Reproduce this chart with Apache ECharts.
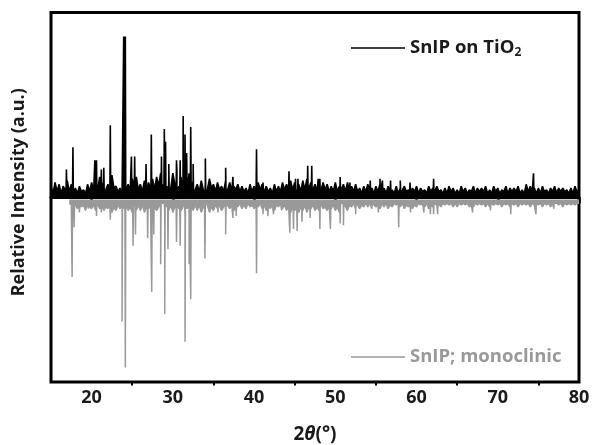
<!DOCTYPE html>
<html>
<head>
<meta charset="utf-8">
<script src="https://cdn.jsdelivr.net/npm/echarts@6/dist/echarts.min.js"></script>
<style>
html,body{margin:0;padding:0;background:#fff;}
#chart{width:592px;height:445px;}
</style>
</head>
<body>
<div id="chart"></div>
<script>
// ---- data ----
const xTicks = [20, 30, 40, 50, 60, 70, 80];
const xMinorTicks = [25, 35, 45, 55, 65, 75];
const seriesNames = ['SnIP on TiO2', 'SnIP; monoclinic'];

// SnIP on TiO2: background noise, sampled every 0.25° from 15° to 80°
const blackNoiseStart = 15;
const blackNoise = [
6,2,8,3, 7,2,6,4, 9,3,7,2, 5,2,6,3, 4,2,7,3,
8,3,10,4, 11,5,9,4, 7,3,12,5, 6,3,5,2, 8,4,7,3,
10,5,11,4, 7,3,9,4, 8,5,10,4, 11,6,13,7, 12,6,10,5,
13,7,14,6, 11,6,12,5, 13,7,9,4, 7,3,9,4, 8,4,10,5,
7,3,8,4, 6,3,9,4, 8,3,6,4, 7,3,6,3, 5,2,7,3,
6,3,8,4, 7,3,6,3, 5,2,7,3, 6,3,8,4, 7,3,9,4,
8,4,7,3, 9,4,10,5, 8,4,7,3, 6,3,8,4, 7,3,6,3,
8,3,6,4, 7,3,8,4, 6,3,7,3, 5,2,6,3, 7,3,5,2,
6,3,7,3, 5,2,6,3, 4,2,6,2, 5,2,6,3, 4,2,5,3,
6,2,5,3, 4,2,6,3, 5,2,6,3, 4,2,5,2, 6,3,5,2,
4,2,6,3, 5,2,4,3, 6,2,5,3, 5,3,6,2, 4,2,6,3,
5,2,4,3, 6,2,5,3, 5,3,6,2, 4,2,7,3, 6,3,5,2,
5,2,6,3, 4,2,5,3, 6,2,5,3, 5,3,4,2, 5,2,6,3,
4
];
// SnIP on TiO2: peaks [2theta, height]
const blackPeaks = [
[16.9,15],[17.7,27],[20.4,20],[20.6,20],[21.2,15],[21.5,16],[22.3,39],
[23.95,87],[24.05,84],[24.15,87],[24.9,22],[25.3,22],[26.7,18],[27.35,34],
[28.6,22],[28.95,37],[29.1,30],[29.5,18],[30.45,20],[30.9,20],[31.27,44],
[31.5,34],[31.7,24],[32.2,38],[32.5,18],[34.0,21],[36.5,16],[37.4,11],
[40.3,26],[41.1,8],[44.3,14],[45.1,10],[45.4,10],[46.6,17],[47.1,17],
[47.9,10],[48.1,10],[50.6,11],[51.8,8],[54.3,9],[55.5,10],[55.8,9],
[56.8,9],[58.0,9],[59.2,8],[62.1,10],[74.4,13]
];

// SnIP monoclinic (reference pattern, drawn downward): noise every 0.25° from 17.25° to 80°
const greyNoiseStart = 17.25;
const greyNoise = [
2,3,4,
3,5,2,4, 3,6,2,4,
5,3,6,3, 5,2,6,4, 5,3,7,4, 6,3,5,4, 5,3,6,4,
7,4,6,3, 6,3,7,4, 5,3,8,4, 6,4,7,3, 8,4,6,3,
7,4,8,5, 6,4,9,5, 7,4,6,3, 6,3,7,4, 5,3,7,4,
6,3,5,3, 6,4,7,3, 5,3,6,4, 4,2,5,3, 5,2,4,3,
5,3,4,2, 5,3,6,4, 5,3,6,3, 4,2,5,3, 6,3,7,4,
6,4,7,4, 6,3,7,4, 5,3,6,4, 6,3,5,4, 6,3,5,3,
6,4,7,3, 5,3,6,3, 4,2,5,3, 5,3,4,2, 4,2,5,3,
4,3,5,2, 4,2,5,3, 4,2,3,2, 4,2,5,3, 4,2,5,3,
4,2,3,2, 4,2,5,3, 4,2,3,2, 4,2,3,2, 3,2,4,2,
4,2,3,2, 3,2,4,3, 4,2,3,2, 3,2,4,2, 4,2,3,2,
3,2,4,2, 3,2,4,2, 3,2,4,2, 3,2,3,2, 4,2,3,2,
3,2,4,2, 3,2,4,2, 3,2,3,2, 4,2,3,2, 3,2,3,2,
2
];
// SnIP monoclinic: peaks [2theta, depth]
const greyPeaks = [
[17.6,42],[17.85,15],[18.5,7],[19.6,5],[20.6,9],[21.2,7],[22.3,11],
[23.75,66],[24.15,91],[25.1,25],[25.4,19],[26.9,21],[27.4,50],[27.65,19],
[28.5,35],[29.0,62],[29.4,27],[30.45,23],[30.9,25],[31.5,77],[32.0,35],
[32.2,54],[33.95,32],[35.55,7],[36.5,19],[37.4,10],[37.8,9],[40.3,40],
[41.1,8],[41.7,9],[42.4,8],[43.4,6],[44.4,18],[44.85,16],[45.3,17],
[45.9,12],[46.9,10],[48.1,16],[49.4,16],[50.6,13],[51.0,14],[52.5,8],
[54.5,6],[55.3,7],[57.8,15],[59.25,7],[60.9,7],[61.7,8],[62.1,8],
[62.6,8],[66.9,7],[69.1,6],[71.6,8],[74.7,8],[76.9,5]
];

// ---- build traces ----
const STEP = 0.25, FLANK = 0.05;
const GREY_OFFSET = -1.2;
function buildTrace(start, noise, peaks, sign, offset) {
  const pts = noise.map((v, i) => [start + i * STEP, sign * v + offset]);
  peaks.forEach(([p, h]) => {
    pts.push([p - FLANK, sign * 2 + offset], [p, sign * h + offset], [p + FLANK, sign * 2 + offset]);
  });
  pts.sort((a, b) => a[0] - b[0]);
  return pts;
}
const blackData = buildTrace(blackNoiseStart, blackNoise, blackPeaks, 1, 0);
const greyData = buildTrace(greyNoiseStart, greyNoise, greyPeaks, -1, GREY_OFFSET);

const FONT = 'Open Sans';
const BLACK = '#000000', GREY = '#999999', TXT = '#1a1a1a';

const chart = echarts.init(document.getElementById('chart'), null, {renderer: 'canvas'});
chart.setOption({
  animation: false,
  backgroundColor: '#ffffff',
  grid: {left: 51, right: 13, top: 12.5, bottom: 63, show: true, borderColor: '#000', borderWidth: 3,
         backgroundColor: 'transparent', containLabel: false, outerBoundsMode: 'none'},
  legend: [
    {
      data: [seriesNames[0]], left: 351, top: 37, padding: 0, selectedMode: false,
      icon: 'rect', itemWidth: 54, itemHeight: 1.6, itemGap: 0,
      formatter: () => '{a|SnIP on TiO}{s|2}',
      textStyle: {
        color: TXT, fontFamily: FONT, fontWeight: 'bold', fontSize: 18.5,
        rich: {
          a: {color: TXT, fontFamily: FONT, fontWeight: 'bold', fontSize: 18.5, lineHeight: 22},
          s: {color: TXT, fontFamily: FONT, fontWeight: 'bold', fontSize: 12, lineHeight: 22, padding: [10, 0, 0, 0]}
        }
      }
    },
    {
      data: [seriesNames[1]], left: 351, top: 346, padding: 0, selectedMode: false,
      icon: 'rect', itemWidth: 54, itemHeight: 1.6, itemGap: 0,
      textStyle: {color: GREY, fontFamily: FONT, fontWeight: 'bold', fontSize: 18.5, lineHeight: 22}
    }
  ],
  xAxis: [
    {
      type: 'value', min: 15, max: 80, position: 'bottom',
      axisLine: {show: true, lineStyle: {color: '#000', width: 3}},
      splitLine: {show: false},
      axisTick: {show: true, length: 6, lineStyle: {color: '#000', width: 2.5}, customValues: xTicks},
      axisLabel: {customValues: xTicks, fontSize: 18, fontWeight: 'bold', color: TXT, fontFamily: FONT, margin: 7},
      name: '{a|2}{i|θ}{a|(°)}', nameLocation: 'middle', nameGap: 43,
      nameTextStyle: {
        rich: {
          a: {fontSize: 19, fontWeight: 'bold', color: TXT, fontFamily: FONT},
          i: {fontSize: 19, fontWeight: 'bold', fontStyle: 'italic', color: TXT, fontFamily: FONT}
        }
      }
    },
    {
      type: 'value', min: 15, max: 80, position: 'bottom',
      axisLine: {show: false}, splitLine: {show: false}, axisLabel: {show: false},
      axisTick: {show: true, length: 3.5, lineStyle: {color: '#000', width: 2}, customValues: xMinorTicks}
    }
  ],
  yAxis: {
    type: 'value', min: -100, max: 100,
    axisLine: {show: false}, axisTick: {show: false}, axisLabel: {show: false}, splitLine: {show: false},
    name: 'Relative Intensity (a.u.)', nameLocation: 'middle', nameGap: 23, nameRotate: 90,
    nameTextStyle: {fontSize: 18, fontWeight: 'bold', color: TXT, fontFamily: FONT, padding: [0, 0, 0, 10]}
  },
  series: [
    {
      name: seriesNames[1], type: 'line', data: greyData, xAxisIndex: 0,
      showSymbol: false, symbol: 'none', z: 2,
      lineStyle: {color: GREY, width: 1.5}, itemStyle: {color: GREY},
      areaStyle: {color: GREY, opacity: 1, origin: GREY_OFFSET}
    },
    {
      name: seriesNames[0], type: 'line', data: blackData, xAxisIndex: 0,
      showSymbol: false, symbol: 'none', z: 3,
      lineStyle: {color: BLACK, width: 1.6}, itemStyle: {color: BLACK},
      areaStyle: {color: BLACK, opacity: 1, origin: 0}
    }
  ]
});
</script>
</body>
</html>
